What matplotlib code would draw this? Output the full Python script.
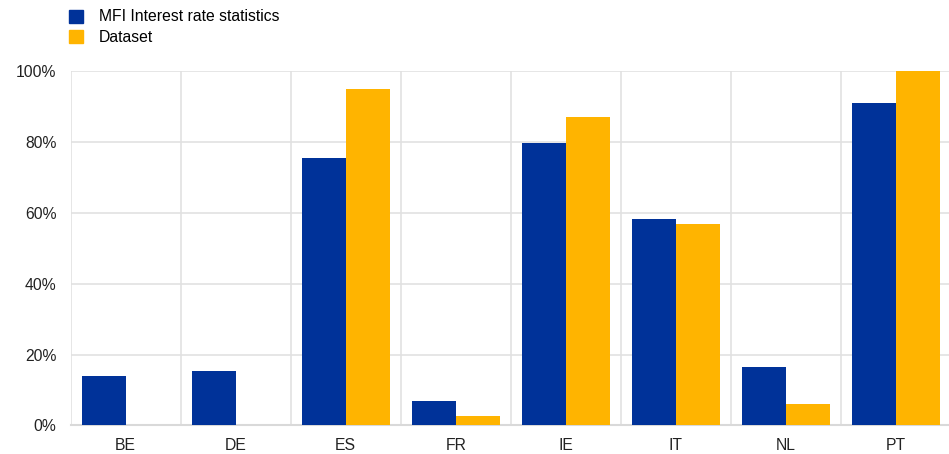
import numpy as np
import matplotlib.pyplot as plt
from matplotlib.patches import Patch

plt.rcParams['font.family'] = ['Liberation Sans', 'DejaVu Sans']

countries = ['BE', 'DE', 'ES', 'FR', 'IE', 'IT', 'NL', 'PT']
mir = [13.9, 15.4, 75.4, 6.9, 79.7, 58.2, 16.5, 91.0]      # MFI Interest rate statistics
dataset = [0.0, 0.0, 95.1, 2.7, 87.1, 56.8, 6.1, 100.0]     # Dataset

blue = '#003299'
yellow = '#ffb400'
grid_col = '#e1e1e1'

fig = plt.figure(figsize=(9.49, 4.54), dpi=100)
ax = fig.add_axes([0.0743, 0.0628, 0.928, 0.7802])

x = np.arange(len(countries))
w = 0.4
ax.bar(x - w / 2, mir, width=w, color=blue, zorder=3)
ax.bar(x + w / 2, dataset, width=w, color=yellow, zorder=3)

ax.set_xlim(-0.5, len(countries) - 0.5)
ax.set_ylim(0, 100)
ax.set_yticks(range(0, 101, 20))
ax.set_yticklabels([f'{v}%' for v in range(0, 101, 20)])
ax.set_xticks(x)
ax.set_xticklabels(countries)
ax.set_xticks(np.arange(-0.5, len(countries), 1), minor=True)

ax.grid(axis='y', color=grid_col, linewidth=1.2, zorder=0)
ax.grid(axis='x', which='minor', color=grid_col, linewidth=1.2, zorder=0)
ax.grid(axis='x', which='major', visible=False)

for s in ['top', 'right', 'left']:
    ax.spines[s].set_visible(False)
ax.spines['bottom'].set_color('#d9d9d9')
ax.spines['bottom'].set_linewidth(1.5)

ax.tick_params(axis='both', which='both', length=0, labelsize=11.3, colors='#222222')
ax.tick_params(axis='y', pad=10)
ax.tick_params(axis='x', pad=9)

handles = [Patch(color=blue), Patch(color=yellow)]
fig.legend(handles, ['MFI Interest rate statistics', 'Dataset'],
           loc='upper left', bbox_to_anchor=(0.066, 0.993), frameon=False,
           fontsize=11.3, handlelength=0.9, handleheight=0.9,
           handletextpad=1.0, labelspacing=0.35, borderaxespad=0.0,
           borderpad=0.4)

fig.savefig('out.png', dpi=100)
